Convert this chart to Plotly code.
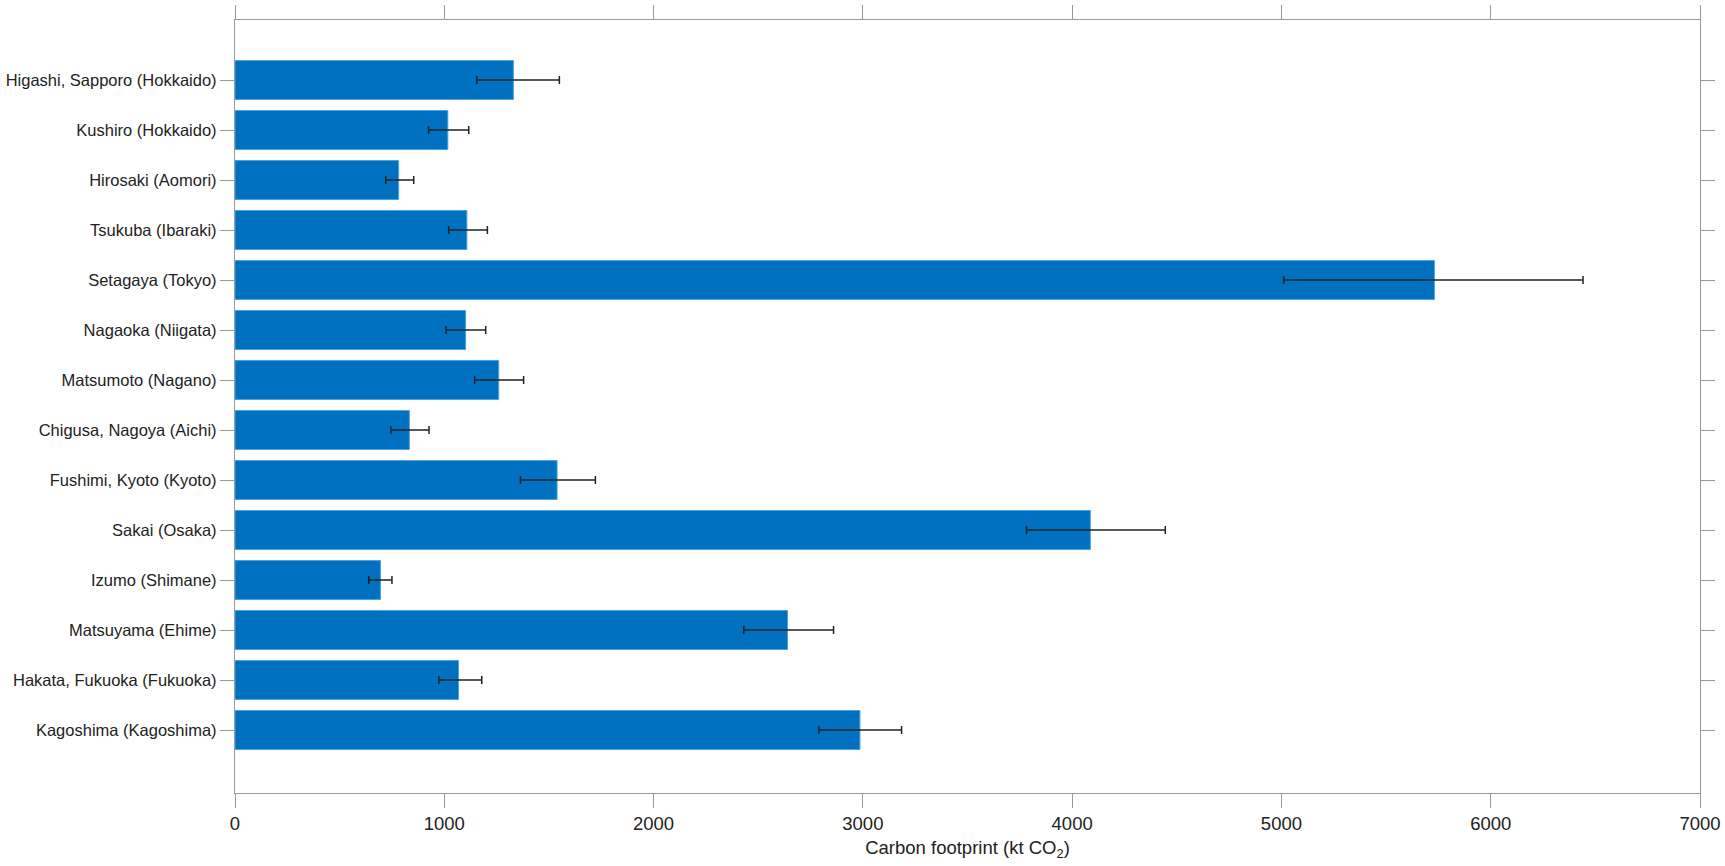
import plotly.graph_objects as go

cities = [
    "Higashi, Sapporo (Hokkaido)", "Kushiro (Hokkaido)", "Hirosaki (Aomori)",
    "Tsukuba (Ibaraki)", "Setagaya (Tokyo)", "Nagaoka (Niigata)",
    "Matsumoto (Nagano)", "Chigusa, Nagoya (Aichi)", "Fushimi, Kyoto (Kyoto)",
    "Sakai (Osaka)", "Izumo (Shimane)", "Matsuyama (Ehime)",
    "Hakata, Fukuoka (Fukuoka)", "Kagoshima (Kagoshima)",
]
footprint = [1330, 1017, 782, 1108, 5731, 1102, 1260, 833, 1539, 4087, 695, 2640, 1068, 2986]
err_low = [1155, 925, 720, 1021, 5011, 1008, 1145, 745, 1364, 3782, 639, 2431, 974, 2790]
err_high = [1550, 1117, 854, 1206, 6441, 1198, 1379, 927, 1722, 4445, 750, 2860, 1179, 3185]

err_plus = [h - v for h, v in zip(err_high, footprint)]
err_minus = [v - l for v, l in zip(footprint, err_low)]

fig = go.Figure()
fig.add_trace(go.Bar(
    y=cities, x=footprint, orientation="h", width=0.78,
    marker=dict(color="#0070C0", line=dict(color="#4aa3df", width=1)),
    error_x=dict(type="data", symmetric=False, array=err_plus, arrayminus=err_minus,
                 color="#222222", thickness=1.5, width=4),
    showlegend=False,
))

axis_color = "#9a9a9a"
fig.update_layout(
    width=1725, height=866,
    margin=dict(l=235, r=25, t=20, b=73, autoexpand=False),
    paper_bgcolor="white", plot_bgcolor="white",
    font=dict(family="Liberation Sans, Arial, sans-serif", color="#222222"),
    bargap=0.22,
    xaxis=dict(
        range=[0, 7000], tickvals=[0, 1000, 2000, 3000, 4000, 5000, 6000, 7000],
        automargin=False,
        showgrid=False, zeroline=False,
        showline=True, linecolor=axis_color, linewidth=1.2, mirror="ticks",
        ticks="outside", ticklen=14, tickcolor=axis_color, tickwidth=1.2,
        tickfont=dict(size=18.5),
        title=dict(text="Carbon footprint (kt CO<sub>2</sub>)", font=dict(size=18.5), standoff=7),
    ),
    yaxis=dict(
        type="category", categoryorder="array", categoryarray=cities,
        range=[14.26, -1.2], automargin=False,
        showgrid=False, zeroline=False,
        showline=True, linecolor=axis_color, linewidth=1.2, mirror="ticks",
        ticks="outside", ticklen=14, tickcolor=axis_color, tickwidth=1.2,
        tickfont=dict(size=16.5),
    ),
)

fig.write_html(
    "out.html",
    config={"displayModeBar": False},
    post_script="document.body.style.margin='0';document.body.style.overflow='hidden';",
)
